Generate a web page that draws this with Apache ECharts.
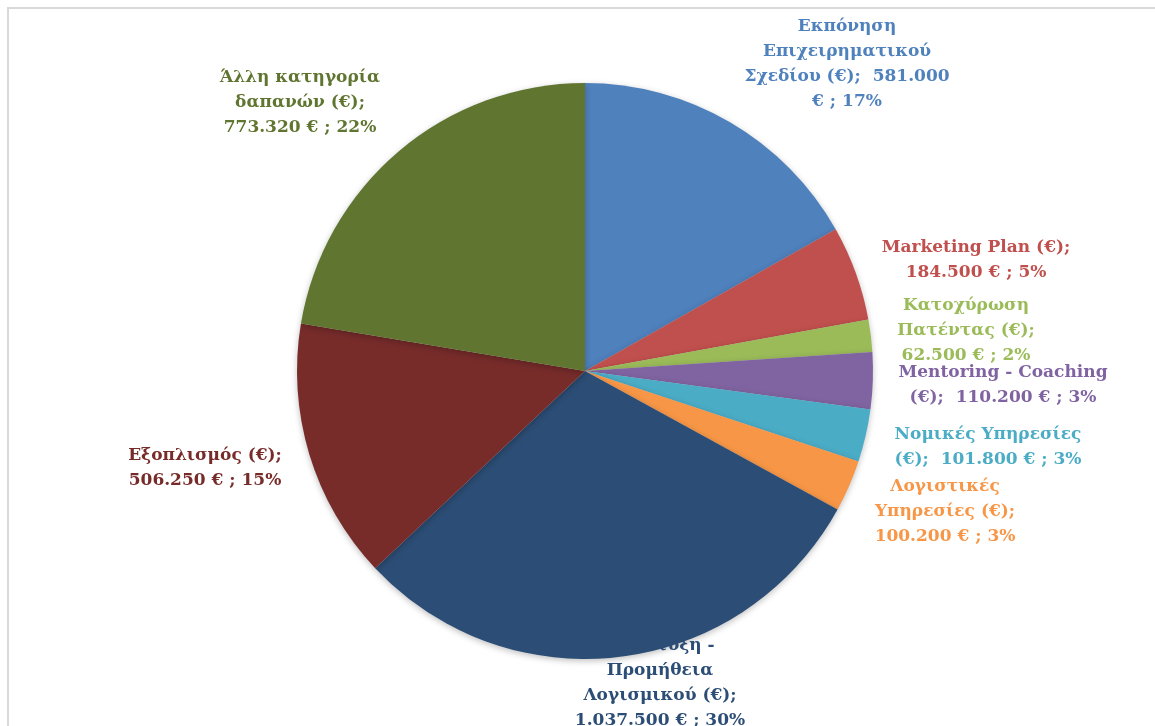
<!DOCTYPE html>
<html>
<head>
<meta charset="utf-8">
<style>
  html, body { margin: 0; padding: 0; background: #fff; }
  #chart { width: 1155px; height: 726px; }
</style>
<script src="https://cdn.jsdelivr.net/npm/echarts@6/dist/echarts.min.js"></script>
</head>
<body>
<div id="chart"></div>
<script>
// κατηγορίες δαπανών και ποσά (€)
const categories = [
  'Εκπόνηση Επιχειρηματικού Σχεδίου (€)',
  'Marketing Plan (€)',
  'Κατοχύρωση Πατέντας (€)',
  'Mentoring - Coaching (€)',
  'Νομικές Υπηρεσίες (€)',
  'Λογιστικές Υπηρεσίες (€)',
  'Ανάπτυξη - Προμήθεια Λογισμικού (€)',
  'Εξοπλισμός (€)',
  'Άλλη κατηγορία δαπανών (€)'
];
const amounts = [581000, 184500, 62500, 110200, 101800, 100200, 1037500, 506250, 773320];

// πώς σπάει κάθε ετικέτα σε γραμμές ({v} = ποσό, {p} = ποσοστό)
const labelTemplates = [
  'Εκπόνηση\nΕπιχειρηματικού\nΣχεδίου (€);  {v}\n€ ; {p}%',
  'Marketing Plan (€);\n{v} € ; {p}%',
  'Κατοχύρωση\nΠατέντας (€);\n{v} € ; {p}%',
  'Mentoring - Coaching\n(€);  {v} € ; {p}%',
  'Νομικές Υπηρεσίες\n(€);  {v} € ; {p}%',
  'Λογιστικές\nΥπηρεσίες (€);\n{v} € ; {p}%',
  'Ανάπτυξη -\nΠρομήθεια\nΛογισμικού (€);\n{v} € ; {p}%',
  'Εξοπλισμός (€);\n{v} € ; {p}%',
  'Άλλη κατηγορία\nδαπανών (€);\n{v} € ; {p}%'
];

const colors = ['#4F81BD', '#C0504D', '#9BBB59', '#8064A2', '#4BACC6', '#F79646', '#2C4D75', '#772C2A', '#5F7530'];

// θέσεις ετικετών (κέντρο μπλοκ κειμένου)
const labelSpots = [
  [847, 64], [976, 260], [966, 331], [1003, 385], [988, 447],
  [945, 512], [660, 683], [205, 468], [300, 103]
];

const fmt = (n) => n.toString().replace(/\B(?=(\d{3})+(?!\d))/g, '.');

const chartDom = document.getElementById('chart');
const myChart = echarts.init(chartDom);

const option = {
  animation: false,
  graphic: [
    {
      type: 'rect',
      shape: { x: 8, y: 8, width: 1170, height: 740 },
      style: { fill: 'none', stroke: '#D9D9D9', lineWidth: 2 },
      silent: true
    }
  ],
  series: [
    {
      type: 'pie',
      center: [585, 371],
      radius: [0, 288],
      startAngle: 90,
      clockwise: true,
      avoidLabelOverlap: false,
      itemStyle: {
        shadowBlur: 6,
        shadowColor: 'rgba(0,0,0,0.25)',
        shadowOffsetY: 2
      },
      label: {
        show: true,
        position: 'outside',
        fontFamily: 'DejaVu Serif',
        fontWeight: 'bold',
        fontSize: 17,
        lineHeight: 25,
        align: 'center',
        formatter: (params) => {
          return labelTemplates[params.dataIndex]
            .replace('{v}', fmt(params.value))
            .replace('{p}', Math.round(params.percent));
        }
      },
      labelLine: { show: false },
      labelLayout: (params) => {
        const p = labelSpots[params.dataIndex];
        return { x: p[0], y: p[1], align: 'center', verticalAlign: 'middle' };
      },
      emphasis: { disabled: true },
      data: categories.map((name, i) => ({
        name: name,
        value: amounts[i],
        itemStyle: { color: colors[i] },
        label: { color: colors[i] }
      }))
    }
  ]
};

myChart.setOption(option);
</script>
</body>
</html>
